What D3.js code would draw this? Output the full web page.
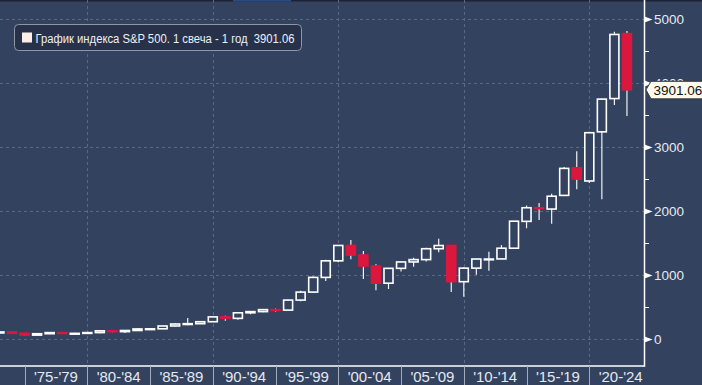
<!DOCTYPE html>
<html><head><meta charset="utf-8">
<script src="https://cdn.jsdelivr.net/npm/d3@7/dist/d3.min.js"></script>
<style>
html,body{margin:0;padding:0;background:#33425f;overflow:hidden;}
svg{display:block;}
text{font-family:"Liberation Sans",Arial,sans-serif;}
</style></head>
<body>
<svg id="chart" width="702" height="385"></svg>
<script>
// Yearly candles (year, open, high, low, close)
const years = [1972,1973,1974,1975,1976,1977,1978,1979,1980,1981,1982,1983,1984,1985,1986,1987,1988,1989,1990,1991,1992,1993,1994,1995,1996,1997,1998,1999,2000,2001,2002,2003,2004,2005,2006,2007,2008,2009,2010,2011,2012,2013,2014,2015,2016,2017,2018,2019,2020,2021,2022];
const openV  = [102.1,118.1,97.6,68.7,90.2,107.5,95.1,96.1,107.9,135.8,122.6,140.6,164.9,167.2,211.3,242.2,247.1,277.7,353.4,330.2,417.1,435.7,466.5,459.3,615.9,740.7,970.4,1229.2,1469.3,1320.3,1148.1,879.8,1111.9,1211.9,1248.3,1418.3,1468.4,903.3,1115.1,1257.6,1258.9,1426.2,1845.9,2058.9,2038.2,2251.6,2683.7,2477.0,3244.7,3764.6,4778.1];
const highV  = [119.8,120.2,99.8,95.6,107.8,108.0,107.0,111.3,140.5,138.1,143.0,172.7,170.4,212.0,254.0,336.8,283.7,360.4,369.8,418.3,442.7,471.3,482.9,622.9,762.1,983.8,1244.9,1473.1,1552.9,1383.4,1177.0,1112.6,1217.3,1275.8,1431.8,1576.1,1471.8,1130.4,1262.6,1370.6,1474.5,1849.4,2093.6,2134.7,2277.5,2695.0,2940.9,3247.9,3760.2,4808.9,4818.6];
const lowV   = [101.7,92.2,62.3,68.0,90.0,90.7,86.9,96.1,98.2,112.8,101.4,138.3,147.8,163.4,203.5,223.9,242.6,275.3,294.5,309.4,394.5,426.9,435.9,457.2,597.3,729.6,912.8,1205.5,1254.1,944.8,768.6,788.9,1060.7,1136.2,1219.3,1364.0,741.0,666.8,1010.9,1074.8,1258.9,1426.2,1737.9,1867.0,1810.1,2245.1,2346.6,2444.0,2191.9,3662.7,3491.6];
const closeV = [118.1,97.6,68.6,90.2,107.5,95.1,96.1,107.9,135.8,122.6,140.6,164.9,167.2,211.3,242.2,247.1,277.7,353.4,330.2,417.1,435.7,466.5,459.3,615.9,740.7,970.4,1229.2,1469.3,1320.3,1148.1,879.8,1111.9,1211.9,1248.3,1418.3,1468.4,903.3,1115.1,1257.6,1257.6,1426.2,1848.4,2058.9,2043.9,2238.8,2673.6,2506.9,3230.8,3756.1,4766.2,3901.1];

const yTicks = [0,1000,2000,3000,4000,5000];
const yMinor = [500,1500,2500,3500,4500];
const groupStarts = [1975,1980,1985,1990,1995,2000,2005,2010,2015,2020];
const groupLabels = ["'75-'79","'80-'84","'85-'89","'90-'94","'95-'99","'00-'04","'05-'09","'10-'14","'15-'19","'20-'24"];
const gridYears = [1980,1990,2000,2010,2020];
const lastValue = 3901.06;
const legendText = "График индекса S&P 500. 1 свеча - 1 год\u00a0\u00a03901.06";

const W = 702, H = 385;
const plotR = 644.5, plotB = 366;
const bg = "#33425f", red = "#dc173d", grid = "#5b6985";

const x = d3.scaleLinear().domain([1980, 2020]).range([87.3, 589.3]);
const y = d3.scaleLinear().domain([0, 5000]).range([339.5, 19.5]);

const svg = d3.select("#chart");
svg.append("rect").attr("width", W).attr("height", H).attr("fill", bg);

// top strip
svg.append("rect").attr("x",0).attr("y",0).attr("width",W).attr("height",1.5).attr("fill","#1c2334");
svg.append("rect").attr("x",233).attr("y",0).attr("width",58).attr("height",1.5).attr("fill","#284a86");

svg.append("defs").append("clipPath").attr("id","plotclip")
  .append("rect").attr("x",0).attr("y",0).attr("width",plotR).attr("height",plotB);

const plot = svg.append("g").attr("clip-path","url(#plotclip)");

// grid
plot.selectAll("line.hg").data(yTicks).join("line")
  .attr("x1",0).attr("x2",plotR).attr("y1",d=>y(d)).attr("y2",d=>y(d))
  .attr("stroke",grid).attr("stroke-width",1).attr("stroke-dasharray","3,3");
plot.selectAll("line.vg").data(gridYears).join("line")
  .attr("x1",d=>Math.round(x(d))+0.5).attr("x2",d=>Math.round(x(d))+0.5).attr("y1",0).attr("y2",plotB)
  .attr("stroke",grid).attr("stroke-width",1).attr("stroke-dasharray","3,3");

// candles
const data = years.map((yr,i)=>({yr, o:openV[i], h:highV[i], l:lowV[i], c:closeV[i]}));
const bw = 9;
const cg = plot.selectAll("g.candle").data(data).join("g");
cg.append("line")
  .attr("x1",d=>x(d.yr+1)).attr("x2",d=>x(d.yr+1))
  .attr("y1",d=>y(d.h)).attr("y2",d=>y(d.l))
  .attr("stroke","#f2f2f2").attr("stroke-width",1.2);
cg.append("rect")
  .attr("x",d=>x(d.yr+1)-bw/2)
  .attr("width",bw)
  .attr("y",d=>y(Math.max(d.o,d.c)))
  .attr("height",d=>Math.max(0.8, Math.abs(y(d.o)-y(d.c))))
  .attr("fill",d=>d.c<d.o?red:bg)
  .attr("stroke",d=>d.c<d.o?red:"#ffffff")
  .attr("stroke-width",1.6);

// bottom axis
svg.append("line").attr("x1",0).attr("x2",plotR).attr("y1",plotB).attr("y2",plotB)
  .attr("stroke","#ffffff").attr("stroke-width",1.5);
svg.selectAll("line.sep").data(groupStarts).join("line")
  .attr("x1",d=>Math.round(x(d))+0.5).attr("x2",d=>Math.round(x(d))+0.5)
  .attr("y1",plotB).attr("y2",H).attr("stroke","#a4acbb").attr("stroke-width",1);
svg.selectAll("text.xl").data(groupStarts).join("text")
  .attr("x",d=>(x(d)+x(d+5))/2).attr("y",381.5)
  .attr("text-anchor","middle").attr("font-size",15).attr("fill","#e4e8ef")
  .text((d,i)=>groupLabels[i]);

// right axis
svg.append("line").attr("x1",plotR).attr("x2",plotR).attr("y1",0).attr("y2",plotB+0.75)
  .attr("stroke","#ffffff").attr("stroke-width",1.5);
svg.selectAll("line.minor").data(yMinor).join("line")
  .attr("x1",plotR).attr("x2",plotR+4.5).attr("y1",d=>y(d)).attr("y2",d=>y(d))
  .attr("stroke","#ffffff").attr("stroke-width",1);
svg.selectAll("path.major").data(yTicks).join("path")
  .attr("d",d=>`M${plotR},${y(d)-3}L${plotR+8},${y(d)}L${plotR},${y(d)+3}Z`)
  .attr("fill","#ffffff");
svg.selectAll("text.yl").data(yTicks).join("text")
  .attr("x",654).attr("y",d=>y(d)+4.7)
  .attr("font-size",13.5).attr("fill","#e4e8ef")
  .text(d=>d);

// last value flag
const fy = y(lastValue);
svg.append("path")
  .attr("d",`M646,${fy}L651,${fy-8.5}L704,${fy-8.5}L704,${fy+9}L651,${fy+9}Z`)
  .attr("fill","#fffbec").attr("stroke","#3a3a3a").attr("stroke-width",1);
svg.append("text").attr("x",653.5).attr("y",fy+5).attr("font-size",13.5).attr("fill","#111")
  .text(lastValue.toFixed(2));

// legend
svg.append("rect").attr("x",14.5).attr("y",24.5).attr("width",287).attr("height",26).attr("rx",4)
  .attr("fill","#27324a").attr("stroke","#8e97a8").attr("stroke-width",1);
svg.append("rect").attr("x",22).attr("y",32.5).attr("width",10).attr("height",10).attr("fill","#fdeee8");
svg.append("text").attr("x",35.5).attr("y",42.5).attr("font-size",12.5).attr("fill","#eef0f4")
  .attr("textLength",259).attr("lengthAdjust","spacingAndGlyphs").text(legendText);
</script>
</body></html>
